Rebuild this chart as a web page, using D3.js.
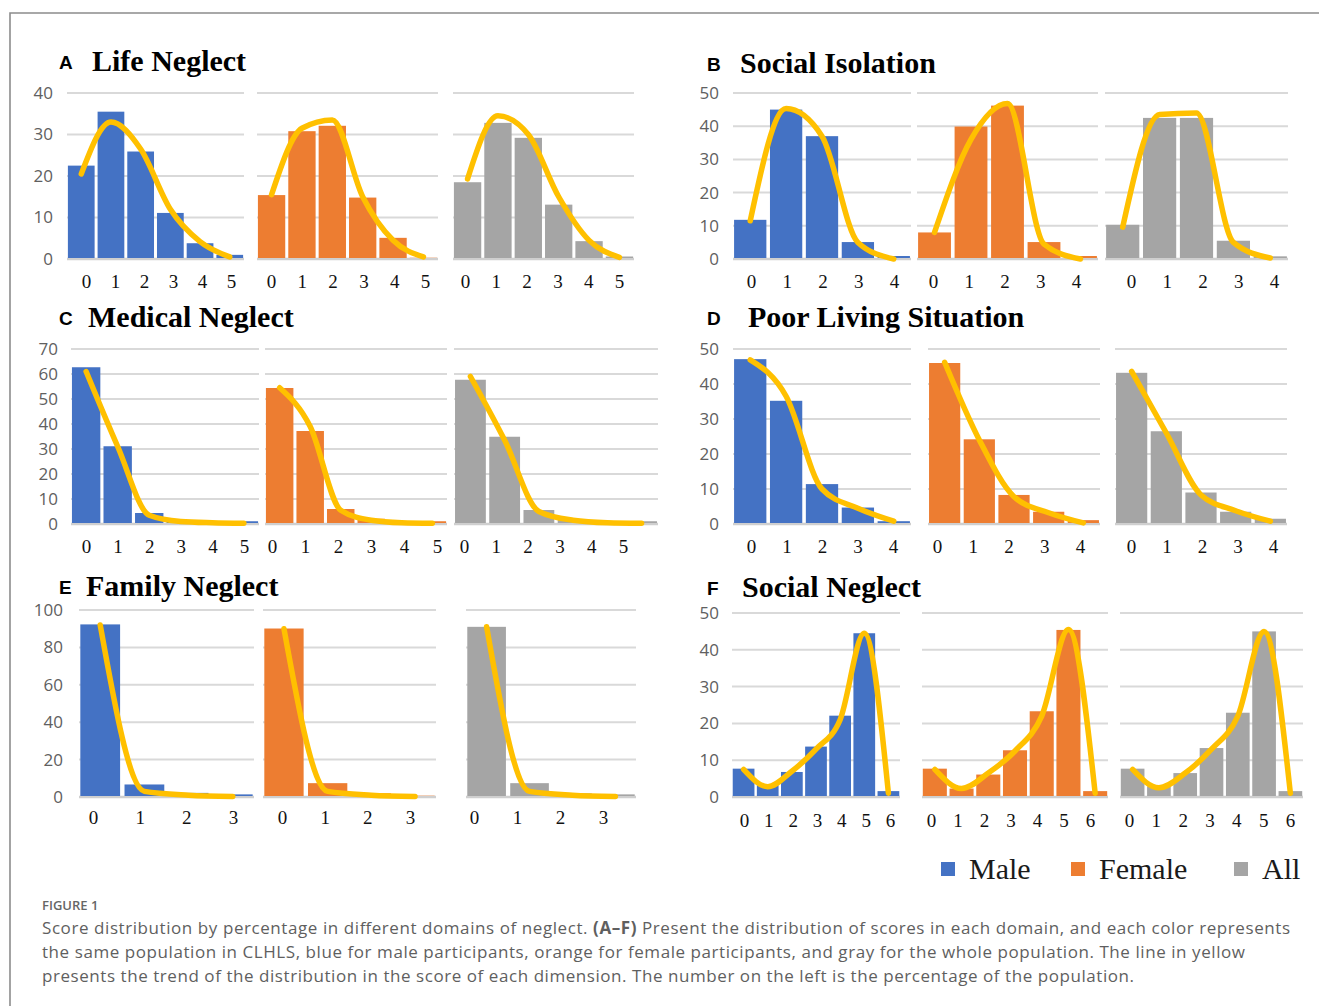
<!DOCTYPE html>
<html>
<head>
<meta charset="utf-8">
<script src="https://cdn.jsdelivr.net/npm/d3@7"></script>
<style>
  body { margin: 0; background: #fff; }
  svg { display: block; }
</style>
</head>
<body>
<svg id="fig" width="1319" height="1006"></svg>
<script>
// ---- Score distributions (% of population) ----
const groupNames = ["Male", "Female", "All"];

// A. Life Neglect
const lifeScores = [0, 1, 2, 3, 4, 5];
const lifeTicks = [0, 10, 20, 30, 40];
const lifeMale = [22.5, 35.5, 25.9, 11.1, 3.8, 1.0];
const lifeFemale = [15.4, 30.8, 32.1, 14.8, 5.1, 0.3];
const lifeAll = [18.5, 32.8, 29.2, 13.1, 4.3, 0.6];
const lifeTrendMale = [20.5, 33.0, 26.5, 12.0, 4.2, 0.5];
const lifeTrendFemale = [15.5, 31.5, 33.5, 15.0, 4.5, 0.5];
const lifeTrendAll = [19.3, 34.5, 30.0, 15.0, 4.5, 0.4];

// B. Social Isolation
const isoScores = [0, 1, 2, 3, 4];
const isoTicks = [0, 10, 20, 30, 40, 50];
const isoMale = [11.8, 45.0, 37.0, 5.1, 0.9];
const isoFemale = [8.0, 39.9, 46.2, 5.1, 0.9];
const isoAll = [10.3, 42.5, 42.5, 5.5, 0.8];
const isoTrendMale = [11.5, 45.3, 37.0, 5.0, 0.0];
const isoTrendFemale = [8.0, 36.0, 46.8, 4.5, 0.0];
const isoTrendAll = [9.6, 43.5, 44.0, 5.0, 0.3];

// C. Medical Neglect
const medScores = [0, 1, 2, 3, 4, 5];
const medTicks = [0, 10, 20, 30, 40, 50, 60, 70];
const medMale = [62.7, 31.1, 4.4, 1.6, 1.0, 1.1];
const medFemale = [54.4, 37.2, 6.0, 2.1, 0.8, 1.1];
const medAll = [57.7, 34.9, 5.6, 1.6, 0.8, 1.1];
const medTrendMale = [61.0, 31.0, 3.5, 1.0, 0.5, 0.3];
const medTrendFemale = [54.5, 39.0, 5.5, 1.5, 0.5, 0.3];
const medTrendAll = [59.0, 33.5, 5.0, 1.5, 0.5, 0.3];

// D. Poor Living Situation
const livScores = [0, 1, 2, 3, 4];
const livTicks = [0, 10, 20, 30, 40, 50];
const livMale = [47.1, 35.2, 11.4, 4.7, 0.8];
const livFemale = [46.0, 24.2, 8.3, 3.5, 1.1];
const livAll = [43.2, 26.5, 9.0, 3.5, 1.5];
const livTrendMale = [46.9, 36.5, 10.0, 4.5, 0.8];
const livTrendFemale = [46.2, 24.0, 7.8, 3.2, 0.3];
const livTrendAll = [43.6, 26.0, 8.3, 3.8, 0.8];

// E. Family Neglect
const famScores = [0, 1, 2, 3];
const famTicks = [0, 20, 40, 60, 80, 100];
const famMale = [92.3, 6.7, 2.2, 1.4];
const famFemale = [90.1, 7.4, 2.0, 0.7];
const famAll = [91.0, 7.4, 2.0, 1.4];
const famTrendMale = [92.0, 3.0, 1.0, 0.3];
const famTrendFemale = [90.0, 3.0, 1.0, 0.3];
const famTrendAll = [91.0, 3.0, 1.0, 0.3];

// F. Social Neglect
const socScores = [0, 1, 2, 3, 4, 5, 6];
const socTicks = [0, 10, 20, 30, 40, 50];
const socMale = [7.7, 3.2, 6.8, 13.7, 22.1, 44.5, 1.6];
const socFemale = [7.7, 2.3, 6.1, 12.7, 23.3, 45.4, 1.6];
const socAll = [7.7, 2.9, 6.5, 13.3, 22.9, 45.0, 1.6];
const socTrendMale = [7.5, 2.8, 7.0, 13.0, 21.0, 44.5, 1.0];
const socTrendFemale = [7.5, 2.3, 6.5, 12.5, 22.0, 45.5, 1.0];
const socTrendAll = [7.5, 2.5, 6.5, 13.0, 22.0, 45.0, 1.0];

// ---- Styling ----
const groupColors = ["#4472C4", "#ED7D31", "#A5A5A5"];
const trendColor = "#FFC000";
const gridColor = "#D9D9D9";

// ---- Panel layout (positions in px) ----
const panels = [
  { letter: "A", title: "Life Neglect", scores: lifeScores, ticks: lifeTicks,
    bars: [lifeMale, lifeFemale, lifeAll], trends: [lifeTrendMale, lifeTrendFemale, lifeTrendAll],
    letterX: 59, titleX: 92, titleY: 71, yTop: 93, yBottom: 259, labelRight: 53, xLabelY: 288,
    plots: [[67, 244], [257, 438], [453, 634]], labelSpans: [[86, 231], [271, 425], [465, 619]] },
  { letter: "B", title: "Social Isolation", scores: isoScores, ticks: isoTicks,
    bars: [isoMale, isoFemale, isoAll], trends: [isoTrendMale, isoTrendFemale, isoTrendAll],
    letterX: 707, titleX: 740, titleY: 73, yTop: 93, yBottom: 259, labelRight: 719, xLabelY: 288,
    plots: [[733, 911], [917, 1098], [1105, 1288]], labelSpans: [[751, 894], [933, 1076], [1131, 1274]] },
  { letter: "C", title: "Medical Neglect", scores: medScores, ticks: medTicks,
    bars: [medMale, medFemale, medAll], trends: [medTrendMale, medTrendFemale, medTrendAll],
    letterX: 59, titleX: 88, titleY: 327, yTop: 349, yBottom: 524, labelRight: 58, xLabelY: 553,
    plots: [[71, 259], [265, 447], [454, 658]], labelSpans: [[86, 244], [272, 437], [464, 623]] },
  { letter: "D", title: "Poor Living Situation", scores: livScores, ticks: livTicks,
    bars: [livMale, livFemale, livAll], trends: [livTrendMale, livTrendFemale, livTrendAll],
    letterX: 707, titleX: 748, titleY: 327, yTop: 349, yBottom: 524, labelRight: 719, xLabelY: 553,
    plots: [[733, 911], [928, 1100], [1115, 1287]], labelSpans: [[751, 893], [937, 1080], [1131, 1273]] },
  { letter: "E", title: "Family Neglect", scores: famScores, ticks: famTicks,
    bars: [famMale, famFemale, famAll], trends: [famTrendMale, famTrendFemale, famTrendAll],
    letterX: 59, titleX: 86, titleY: 596, yTop: 610, yBottom: 797, labelRight: 63, xLabelY: 824,
    plots: [[79, 254], [263, 436], [466, 636]], labelSpans: [[93, 233], [282, 410], [474, 603]] },
  { letter: "F", title: "Social Neglect", scores: socScores, ticks: socTicks,
    bars: [socMale, socFemale, socAll], trends: [socTrendMale, socTrendFemale, socTrendAll],
    letterX: 707, titleX: 742, titleY: 597, yTop: 613, yBottom: 797, labelRight: 719, xLabelY: 827,
    plots: [[732, 900], [922, 1108], [1120, 1303]], labelSpans: [[744, 890], [931, 1090], [1129, 1290]] }
];

const svg = d3.select("#fig");

// Figure frame (top and left rule)
svg.append("path")
  .attr("d", "M10,1006 L10,13 L1319,13")
  .attr("fill", "none").attr("stroke", "#8c8c8c").attr("stroke-width", 1.6);

panels.forEach(p => {
  const g = svg.append("g");
  const yMax = p.ticks[p.ticks.length - 1];
  const y = d3.scaleLinear().domain([0, yMax]).range([p.yBottom, p.yTop]);

  // Panel letter and title
  g.append("text").attr("x", p.letterX).attr("y", p.titleY - 2)
    .attr("font-family", "Liberation Sans, Arial, sans-serif").attr("font-weight", 700)
    .attr("font-size", 19).attr("fill", "#000").text(p.letter);
  g.append("text").attr("x", p.titleX).attr("y", p.titleY)
    .attr("font-family", "Liberation Serif, Times New Roman, serif").attr("font-weight", 700)
    .attr("font-size", 30).attr("fill", "#000").text(p.title);

  // Shared y axis labels
  const yAxis = d3.axisLeft(y).tickValues(p.ticks).tickSize(0).tickPadding(0);
  const ya = g.append("g").attr("transform", `translate(${p.labelRight},0)`).call(yAxis);
  ya.select(".domain").remove();
  ya.selectAll("text").attr("font-family", "Open Sans, sans-serif").attr("font-size", 17)
    .attr("fill", "#606060");

  p.plots.forEach((range, gi) => {
    const sub = g.append("g");
    const x = d3.scaleBand().domain(p.scores).range(range).paddingInner(0.1).paddingOuter(0.03);

    // Gridlines
    sub.selectAll("line.grid").data(p.ticks).join("line")
      .attr("class", "grid")
      .attr("x1", range[0]).attr("x2", range[1])
      .attr("y1", d => y(d)).attr("y2", d => y(d))
      .attr("stroke", d => d === 0 ? "#CFCFCF" : gridColor)
      .attr("stroke-width", d => d === 0 ? 2.5 : 2);

    // Bars
    sub.selectAll("rect").data(p.bars[gi]).join("rect")
      .attr("x", (d, i) => x(p.scores[i]))
      .attr("width", x.bandwidth())
      .attr("y", d => y(d))
      .attr("height", d => y(0) - y(d) - 1)
      .attr("fill", groupColors[gi]);

    // Smoothed trend line
    const line = d3.line()
      .x((d, i) => x(p.scores[i]) + x.bandwidth() / 2)
      .y(d => y(d))
      .curve(d3.curveMonotoneX);
    sub.append("path").datum(p.trends[gi])
      .attr("d", line)
      .attr("fill", "none").attr("stroke", trendColor)
      .attr("stroke-width", 5.5).attr("stroke-linecap", "round").attr("stroke-linejoin", "round");

    // Score labels
    const xl = d3.scalePoint().domain(p.scores).range(p.labelSpans[gi]);
    const xa = sub.append("g").attr("transform", `translate(0,${p.xLabelY - 14})`)
      .call(d3.axisBottom(xl).tickSize(0).tickPadding(0));
    xa.select(".domain").remove();
    xa.selectAll("text").attr("font-family", "Liberation Serif, Times New Roman, serif")
      .attr("font-size", 19).attr("fill", "#111").attr("dy", "0.71em");
  });
});

// Legend
const legendX = [941, 1071, 1234];
const legend = svg.append("g");
groupNames.forEach((name, i) => {
  legend.append("rect").attr("x", legendX[i]).attr("y", 862).attr("width", 14).attr("height", 14)
    .attr("fill", groupColors[i]);
  legend.append("text").attr("x", legendX[i] + 28).attr("y", 879)
    .attr("font-family", "Liberation Serif, Times New Roman, serif").attr("font-size", 30)
    .attr("fill", "#1a1a1a").text(name);
});

// Caption
const cap = svg.append("g").attr("font-family", "Open Sans, sans-serif").attr("fill", "#5f5f5f");
cap.append("text").attr("x", 42).attr("y", 910).attr("font-size", 13).attr("font-weight", 600)
  .attr("fill", "#666").text("FIGURE 1");
const l1 = cap.append("text").attr("x", 42).attr("y", 934).attr("font-size", 17)
  .attr("textLength", 1248).attr("lengthAdjust", "spacing");
l1.append("tspan").text("Score distribution by percentage in different domains of neglect. ");
l1.append("tspan").attr("font-weight", 700).text("(A–F)");
l1.append("tspan").text(" Present the distribution of scores in each domain, and each color represents");
cap.append("text").attr("x", 42).attr("y", 958).attr("font-size", 17)
  .attr("textLength", 1203).attr("lengthAdjust", "spacing")
  .text("the same population in CLHLS, blue for male participants, orange for female participants, and gray for the whole population. The line in yellow");
cap.append("text").attr("x", 42).attr("y", 982).attr("font-size", 17)
  .attr("textLength", 1092).attr("lengthAdjust", "spacing")
  .text("presents the trend of the distribution in the score of each dimension. The number on the left is the percentage of the population.");
</script>
</body>
</html>
